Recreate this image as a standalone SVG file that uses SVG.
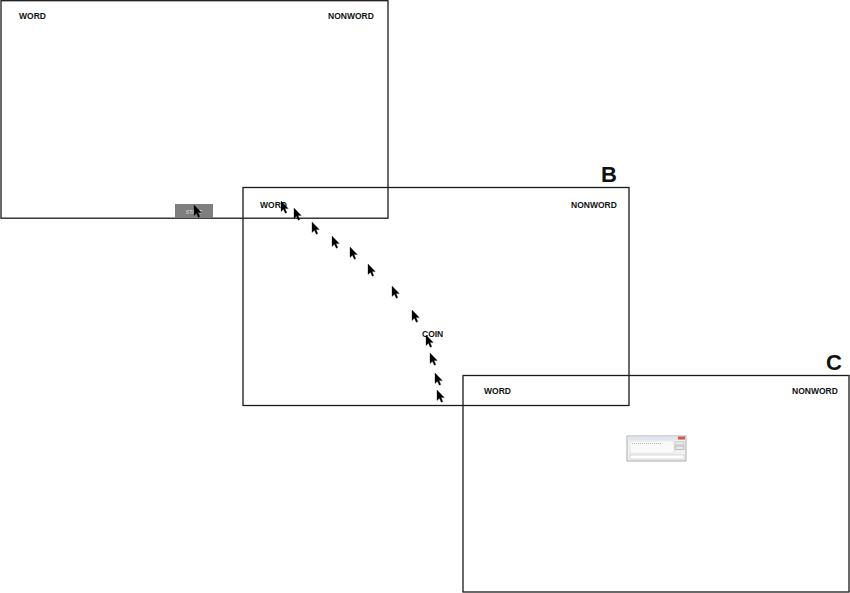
<svg xmlns="http://www.w3.org/2000/svg" width="850" height="593" viewBox="0 0 850 593">
<style>
.panel{fill:none;stroke:#1a1a1a;stroke-width:1.3}
.lbl{font-family:"Liberation Sans",Arial,sans-serif;font-weight:bold;font-size:8.5px;fill:#111}
.big{font-family:"Liberation Sans",Arial,sans-serif;font-weight:bold;font-size:22px;fill:#111}
</style>
<defs>
<path id="cur" d="M0,0 L0,10.5 L2.4,8.2 L4.3,12.3 L5.8,11.6 L4,7.6 L7.3,7.6 Z" fill="#000" stroke="#000" stroke-width="0.3"/>
</defs>
<rect width="850" height="593" fill="#fff"/>
<g id="panelA">
<rect class="panel" x="1" y="0.7" width="387" height="217.5"/>
<text class="lbl" x="19" y="19">WORD</text>
<text class="lbl" x="328" y="19">NONWORD</text>
<g id="startButton">
<rect x="175" y="204" width="38" height="14" fill="#7f7f7f"/>
<text x="194" y="213.5" text-anchor="middle" font-family="Liberation Sans,Arial,sans-serif" font-size="5" font-weight="bold" fill="#c8c8c8">START</text>
</g>
<use href="#cur" x="194" y="205"/>
</g>
<g id="panelB">
<rect class="panel" x="243" y="187.5" width="386" height="218"/>
<text class="big" x="601" y="182">B</text>
<text class="lbl" x="260" y="208">WORD</text>
<text class="lbl" x="571" y="208">NONWORD</text>
<text class="lbl" x="422" y="337">COIN</text>
</g>
<g id="cursorTrail">
<use href="#cur" x="281" y="201"/>
<use href="#cur" x="294" y="208"/>
<use href="#cur" x="312" y="222"/>
<use href="#cur" x="332" y="236"/>
<use href="#cur" x="350" y="247"/>
<use href="#cur" x="368" y="264"/>
<use href="#cur" x="392" y="286"/>
<use href="#cur" x="412" y="310"/>
<use href="#cur" x="426" y="335"/>
<use href="#cur" x="430" y="353"/>
<use href="#cur" x="435" y="373"/>
<use href="#cur" x="437" y="390"/>
</g>
<g id="panelC">
<rect class="panel" x="463" y="375.5" width="386" height="216.5"/>
<text class="big" x="826" y="370">C</text>
<text class="lbl" x="484" y="394">WORD</text>
<text class="lbl" x="792" y="394">NONWORD</text>
<g id="dialog">
<rect x="627" y="436" width="59" height="25" fill="#f2f2f2" stroke="#9a9a9a" stroke-width="0.8"/>
<rect x="627.5" y="436.5" width="58" height="3.5" fill="#dfe6ef"/>
<rect x="678" y="436.5" width="7" height="3" fill="#d9534f"/>
<rect x="630" y="441" width="44" height="12" fill="#fafafa" stroke="#d0d0d0" stroke-width="0.4"/>
<line x1="632" y1="443.5" x2="662" y2="443.5" stroke="#999" stroke-width="0.7" stroke-dasharray="1 1"/>
<rect x="675" y="441.5" width="9" height="3.5" fill="#e8e8e8" stroke="#aaa" stroke-width="0.4"/>
<rect x="675" y="446" width="9" height="3.5" fill="#e8e8e8" stroke="#777" stroke-width="0.4"/>
<rect x="630" y="455" width="54" height="4" fill="#fff" stroke="#aaa" stroke-width="0.4"/>
</g>
</g>
</svg>
